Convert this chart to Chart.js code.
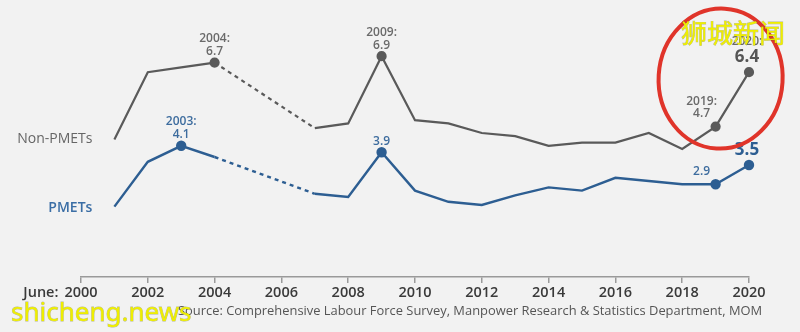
<!DOCTYPE html>
<html>
<head>
<meta charset="utf-8">
<script src="https://cdn.jsdelivr.net/npm/chart.js@4"></script>
<style>
  html, body { margin: 0; padding: 0; background: #f2f2f2; }
  #wrap { width: 800px; height: 332px; position: relative; }
</style>
</head>
<body>
<div id="wrap"><canvas id="chart"></canvas></div>
<script>
// data (2005 and 2006 not surveyed -> dashed span)
const years = [2001, 2002, 2003, 2004, 2007, 2008, 2009, 2010, 2011, 2012, 2013, 2014, 2015, 2016, 2017, 2018, 2019, 2020];
const nonPmets = [4.3, 6.4, 6.55, 6.7, 4.65, 4.8, 6.9, 4.9, 4.8, 4.5, 4.4, 4.1, 4.2, 4.2, 4.5, 4.0, 4.7, 6.4];
const pmets = [2.2, 3.6, 4.1, 3.75, 2.6, 2.5, 3.9, 2.7, 2.35, 2.25, 2.55, 2.8, 2.7, 3.1, 3.0, 2.9, 2.9, 3.5];
const xTicks = [2000, 2002, 2004, 2006, 2008, 2010, 2012, 2014, 2016, 2018, 2020];
const nonPmetsMarked = [2004, 2009, 2019, 2020];
const pmetsMarked = [2003, 2009, 2019, 2020];
const nonPmetsNotes = [
  { year: 2004, text: ['2004:', '6.7'], place: 'above' },
  { year: 2009, text: ['2009:', '6.9'], place: 'above' },
  { year: 2019, text: ['2019:', '4.7'], place: 'left' },
  { year: 2020, text: ['2020:', '6.4'], place: 'big' },
];
const pmetsNotes = [
  { year: 2003, text: ['2003:', '4.1'], place: 'above' },
  { year: 2009, text: ['3.9'], place: 'above' },
  { year: 2019, text: ['2.9'], place: 'left' },
  { year: 2020, text: ['3.5'], place: 'big' },
];
const seriesNames = ['Non-PMETs', 'PMETs'];
const sourceText = 'Source: Comprehensive Labour Force Survey, Manpower Research & Statistics Department, MOM';

const GREY = '#5a5a5a';
const BLUE = '#2d5e92';
const FONT = "'Open Sans', 'Noto Sans', sans-serif";

function pts(vals) {
  return years.map((y, i) => ({ x: y, y: vals[i] }));
}

function radii(marked) {
  return years.map((y) => (marked.includes(y) ? 4 : 0));
}

// dashed where years are missing
const gapDash = (ctx) => (ctx.p1.parsed.x - ctx.p0.parsed.x > 1 ? [4, 4] : undefined);

const notesPlugin = {
  id: 'notes',
  afterDatasetsDraw(chart) {
    const { ctx } = chart;
    const xs = chart.scales.x;
    const ys = chart.scales.y;
    ctx.save();
    ctx.textBaseline = 'middle';

    const groups = [
      { notes: nonPmetsNotes, vals: nonPmets, color: '#6a6a6a', big: '#555555' },
      { notes: pmetsNotes, vals: pmets, color: '#3d6c9e', big: '#2d5e92' },
    ];
    groups.forEach((g) => {
      g.notes.forEach((n) => {
        const i = years.indexOf(n.year);
        const px = xs.getPixelForValue(n.year);
        const py = ys.getPixelForValue(g.vals[i]);
        ctx.textAlign = 'center';
        if (n.place === 'above') {
          ctx.fillStyle = g.color;
          ctx.font = '600 12px ' + FONT;
          const lines = n.text;
          lines.forEach((t, k) => {
            ctx.fillText(t, px, py - 11 - (lines.length - 1 - k) * 13);
          });
        } else if (n.place === 'left') {
          ctx.fillStyle = g.color;
          ctx.font = '600 12px ' + FONT;
          const lines = n.text;
          lines.forEach((t, k) => {
            ctx.fillText(t, px - 14, py - 13 - (lines.length - 1 - k) * 12);
          });
        } else {
          const lines = n.text;
          lines.forEach((t, k) => {
            const last = k === lines.length - 1;
            ctx.fillStyle = last ? g.big : g.color;
            ctx.font = last ? 'bold 17px ' + FONT : '600 12px ' + FONT;
            ctx.fillText(t, px - 2, last ? py - 15 : py - 31);
          });
        }
      });
    });

    // series names beside first point
    const x0 = xs.getPixelForValue(years[0]) - 22;
    ctx.textAlign = 'right';
    ctx.font = '14px ' + FONT;
    ctx.fillStyle = '#666666';
    ctx.fillText(seriesNames[0], x0, ys.getPixelForValue(nonPmets[0]));
    ctx.font = '600 14px ' + FONT;
    ctx.fillStyle = '#3b6ea5';
    ctx.fillText(seriesNames[1], x0, ys.getPixelForValue(pmets[0]) + 1);

    // "June:" prefix on first tick
    ctx.font = '600 14.5px ' + FONT;
    ctx.fillStyle = '#3a3a3a';
    const w = ctx.measureText(String(xTicks[0])).width;
    ctx.fillText('June:', xs.getPixelForValue(xTicks[0]) - w / 2 - 6, 293);

    // source line
    ctx.textAlign = 'left';
    ctx.font = '12.9px ' + FONT;
    ctx.fillStyle = '#555555';
    ctx.fillText(sourceText, 178, 311);
    ctx.restore();
  },
  afterDraw(chart) {
    const { ctx } = chart;
    const xs = chart.scales.x;
    const ys = chart.scales.y;
    ctx.save();
    // red circle around the 2019-2020 jump
    ctx.strokeStyle = '#e0342a';
    ctx.lineWidth = 4;
    ctx.beginPath();
    ctx.ellipse(xs.getPixelForValue(2019.15), ys.getPixelForValue(6.2), 62, 70, 0.06, 0, Math.PI * 2);
    ctx.stroke();

    // watermarks
    ctx.textBaseline = 'alphabetic';
    ctx.textAlign = 'left';
    ctx.fillStyle = '#eeee00';
    ctx.strokeStyle = 'rgba(110,110,30,0.45)';
    ctx.lineWidth = 0.8;
    ctx.font = "26px 'Noto Sans CJK SC', sans-serif";
    ctx.strokeText('狮城新闻', 681, 43);
    ctx.fillText('狮城新闻', 681, 43);
    ctx.font = "26px 'Noto Sans', sans-serif";
    ctx.strokeText('shicheng.news', 11, 321);
    ctx.fillText('shicheng.news', 11, 321);
    ctx.restore();
  },
};

new Chart(document.getElementById('chart'), {
  type: 'line',
  data: {
    datasets: [
      {
        label: seriesNames[0],
        data: pts(nonPmets),
        borderColor: GREY,
        backgroundColor: GREY,
        borderWidth: 2.2,
        pointRadius: radii(nonPmetsMarked),
        pointHoverRadius: 0,
        tension: 0,
        clip: false,
        segment: { borderDash: gapDash },
      },
      {
        label: seriesNames[1],
        data: pts(pmets),
        borderColor: BLUE,
        backgroundColor: BLUE,
        borderWidth: 2.4,
        pointRadius: radii(pmetsMarked),
        pointHoverRadius: 0,
        tension: 0,
        clip: false,
        segment: { borderDash: gapDash },
      },
    ],
  },
  options: {
    responsive: true,
    maintainAspectRatio: false,
    animation: false,
    events: [],
    layout: { padding: { left: 81, right: 51, top: 21, bottom: 0 } },
    plugins: { legend: { display: false }, tooltip: { enabled: false } },
    scales: {
      x: {
        type: 'linear',
        min: 2000,
        max: 2020,
        afterFit: (s) => { s.height = 55; },
        afterBuildTicks: (s) => { s.ticks = xTicks.map((v) => ({ value: v })); },
        ticks: {
          callback: (v) => String(v),
          color: '#3a3a3a',
          font: { size: 14.5, weight: '600', family: FONT },
          padding: 1,
          maxRotation: 0,
          autoSkip: false,
        },
        grid: { drawOnChartArea: false, tickLength: 6, color: '#9a9a9a', lineWidth: 1.5 },
        border: { color: '#9a9a9a', width: 1.5 },
      },
      y: { display: false, min: 0, max: 8 },
    },
  },
  plugins: [notesPlugin],
});
</script>
</body>
</html>
